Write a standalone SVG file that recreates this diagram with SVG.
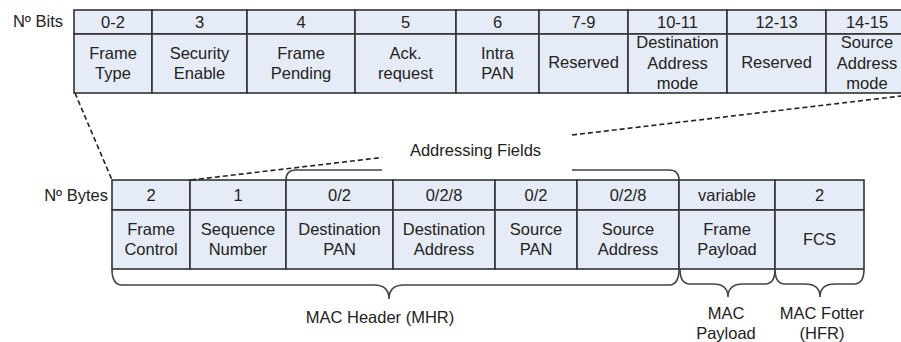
<svg xmlns="http://www.w3.org/2000/svg" width="901" height="342" viewBox="0 0 901 342">
<style>
  .cell { fill: #e6ecf7; stroke: #333; stroke-width: 1.6; }
  .t { font-family: "Liberation Sans", Arial, sans-serif; font-size: 16.5px; fill: #222; text-anchor: middle; }
  .lbl { font-family: "Liberation Sans", Arial, sans-serif; font-size: 16.5px; fill: #222; }
  .brace { fill: none; stroke: #444; stroke-width: 1.6; }
  .dash { fill: none; stroke: #222; stroke-width: 1.6; stroke-dasharray: 5 3; }
</style>
<rect width="901" height="342" fill="#ffffff"/>

<!-- Top table: bits -->
<g id="bits-label"><text class="lbl" x="63" y="27" text-anchor="end">Nº Bits</text></g>
<g id="bit-frame-type">
  <rect class="cell" x="74" y="10" width="78" height="24"/><rect class="cell" x="74" y="34" width="78" height="59"/>
  <text class="t" x="113" y="27.5">0-2</text>
  <text class="t" x="113" y="59">Frame</text><text class="t" x="113" y="78.5">Type</text>
</g>
<g id="bit-security">
  <rect class="cell" x="152" y="10" width="95" height="24"/><rect class="cell" x="152" y="34" width="95" height="59"/>
  <text class="t" x="199.5" y="27.5">3</text>
  <text class="t" x="199.5" y="59">Security</text><text class="t" x="199.5" y="78.5">Enable</text>
</g>
<g id="bit-frame-pending">
  <rect class="cell" x="247" y="10" width="108" height="24"/><rect class="cell" x="247" y="34" width="108" height="59"/>
  <text class="t" x="301" y="27.5">4</text>
  <text class="t" x="301" y="59">Frame</text><text class="t" x="301" y="78.5">Pending</text>
</g>
<g id="bit-ack">
  <rect class="cell" x="355" y="10" width="101" height="24"/><rect class="cell" x="355" y="34" width="101" height="59"/>
  <text class="t" x="405.5" y="27.5">5</text>
  <text class="t" x="405.5" y="59">Ack.</text><text class="t" x="405.5" y="78.5">request</text>
</g>
<g id="bit-intra-pan">
  <rect class="cell" x="456" y="10" width="83" height="24"/><rect class="cell" x="456" y="34" width="83" height="59"/>
  <text class="t" x="497.5" y="27.5">6</text>
  <text class="t" x="497.5" y="59">Intra</text><text class="t" x="497.5" y="78.5">PAN</text>
</g>
<g id="bit-reserved-1">
  <rect class="cell" x="539" y="10" width="89" height="24"/><rect class="cell" x="539" y="34" width="89" height="59"/>
  <text class="t" x="583.5" y="27.5">7-9</text>
  <text class="t" x="583.5" y="68">Reserved</text>
</g>
<g id="bit-dest-mode">
  <rect class="cell" x="628" y="10" width="99" height="24"/><rect class="cell" x="628" y="34" width="99" height="59"/>
  <text class="t" x="677.5" y="27.5">10-11</text>
  <text class="t" x="677.5" y="48">Destination</text><text class="t" x="677.5" y="68.5">Address</text><text class="t" x="677.5" y="89">mode</text>
</g>
<g id="bit-reserved-2">
  <rect class="cell" x="727" y="10" width="99" height="24"/><rect class="cell" x="727" y="34" width="99" height="59"/>
  <text class="t" x="776.5" y="27.5">12-13</text>
  <text class="t" x="776.5" y="68">Reserved</text>
</g>
<g id="bit-src-mode">
  <rect class="cell" x="826" y="10" width="82" height="24"/><rect class="cell" x="826" y="34" width="82" height="59"/>
  <text class="t" x="867" y="27.5">14-15</text>
  <text class="t" x="867" y="48">Source</text><text class="t" x="867" y="68.5">Address</text><text class="t" x="867" y="89">mode</text>
</g>

<!-- Bottom table: bytes -->
<g id="bytes-label"><text class="lbl" x="108" y="200.5" text-anchor="end">Nº Bytes</text></g>
<g id="frame-control">
  <rect class="cell" x="112" y="180" width="78" height="30"/><rect class="cell" x="112" y="210" width="78" height="59"/>
  <text class="t" x="151" y="200.5">2</text>
  <text class="t" x="151" y="235">Frame</text><text class="t" x="151" y="255">Control</text>
</g>
<g id="sequence-number">
  <rect class="cell" x="190" y="180" width="96" height="30"/><rect class="cell" x="190" y="210" width="96" height="59"/>
  <text class="t" x="238" y="200.5">1</text>
  <text class="t" x="238" y="235">Sequence</text><text class="t" x="238" y="255">Number</text>
</g>
<g id="destination-pan">
  <rect class="cell" x="286" y="180" width="107" height="30"/><rect class="cell" x="286" y="210" width="107" height="59"/>
  <text class="t" x="339.5" y="200.5">0/2</text>
  <text class="t" x="339.5" y="235">Destination</text><text class="t" x="339.5" y="255">PAN</text>
</g>
<g id="destination-address">
  <rect class="cell" x="393" y="180" width="102" height="30"/><rect class="cell" x="393" y="210" width="102" height="59"/>
  <text class="t" x="444" y="200.5">0/2/8</text>
  <text class="t" x="444" y="235">Destination</text><text class="t" x="444" y="255">Address</text>
</g>
<g id="source-pan">
  <rect class="cell" x="495" y="180" width="82" height="30"/><rect class="cell" x="495" y="210" width="82" height="59"/>
  <text class="t" x="536" y="200.5">0/2</text>
  <text class="t" x="536" y="235">Source</text><text class="t" x="536" y="255">PAN</text>
</g>
<g id="source-address">
  <rect class="cell" x="577" y="180" width="102" height="30"/><rect class="cell" x="577" y="210" width="102" height="59"/>
  <text class="t" x="628" y="200.5">0/2/8</text>
  <text class="t" x="628" y="235">Source</text><text class="t" x="628" y="255">Address</text>
</g>
<g id="frame-payload">
  <rect class="cell" x="679" y="180" width="96" height="30"/><rect class="cell" x="679" y="210" width="96" height="59"/>
  <text class="t" x="727" y="200.5">variable</text>
  <text class="t" x="727" y="235">Frame</text><text class="t" x="727" y="255">Payload</text>
</g>
<g id="fcs">
  <rect class="cell" x="775" y="180" width="89" height="30"/><rect class="cell" x="775" y="210" width="89" height="59"/>
  <text class="t" x="819.5" y="200.5">2</text>
  <text class="t" x="819.5" y="244.5">FCS</text>
</g>

<!-- Group labels -->
<g id="addressing-fields-label"><text class="t" x="475.5" y="155.5">Addressing Fields</text></g>
<g id="mhr-label"><text class="t" x="380" y="322.5">MAC Header (MHR)</text></g>
<g id="mac-payload-label"><text class="t" x="726" y="319">MAC</text><text class="t" x="726" y="338.5">Payload</text></g>
<g id="mac-footer-label"><text class="t" x="822" y="319">MAC Fotter</text><text class="t" x="822" y="338.5">(HFR)</text></g>

<!-- Connectors -->
<g id="connectors">
  <path class="dash" d="M75,93 L112,180"/>
  <path class="dash" d="M191,180 L382,157.5"/>
  <path class="dash" d="M572,135 L901,96"/>
  <path class="brace" d="M286,180 Q286,170 296,170 L382,170"/>
  <path class="brace" d="M572,170 L669,170 Q679,170 679,180"/>
  <path class="brace" d="M112,269 Q112,285 122,285 L374,285 Q389,285 389,299 Q389,285 404,285 L669,285 Q679,285 679,269"/>
  <path class="brace" d="M680,269 Q680,284 690,284 L713,284 Q728,284 728,297 Q728,284 743,284 L765,284 Q775,284 775,269"/>
  <path class="brace" d="M775,269 Q775,284 785,284 L805,284 Q820,284 820,297 Q820,284 835,284 L854,284 Q864,284 864,269"/>
</g>
</svg>
